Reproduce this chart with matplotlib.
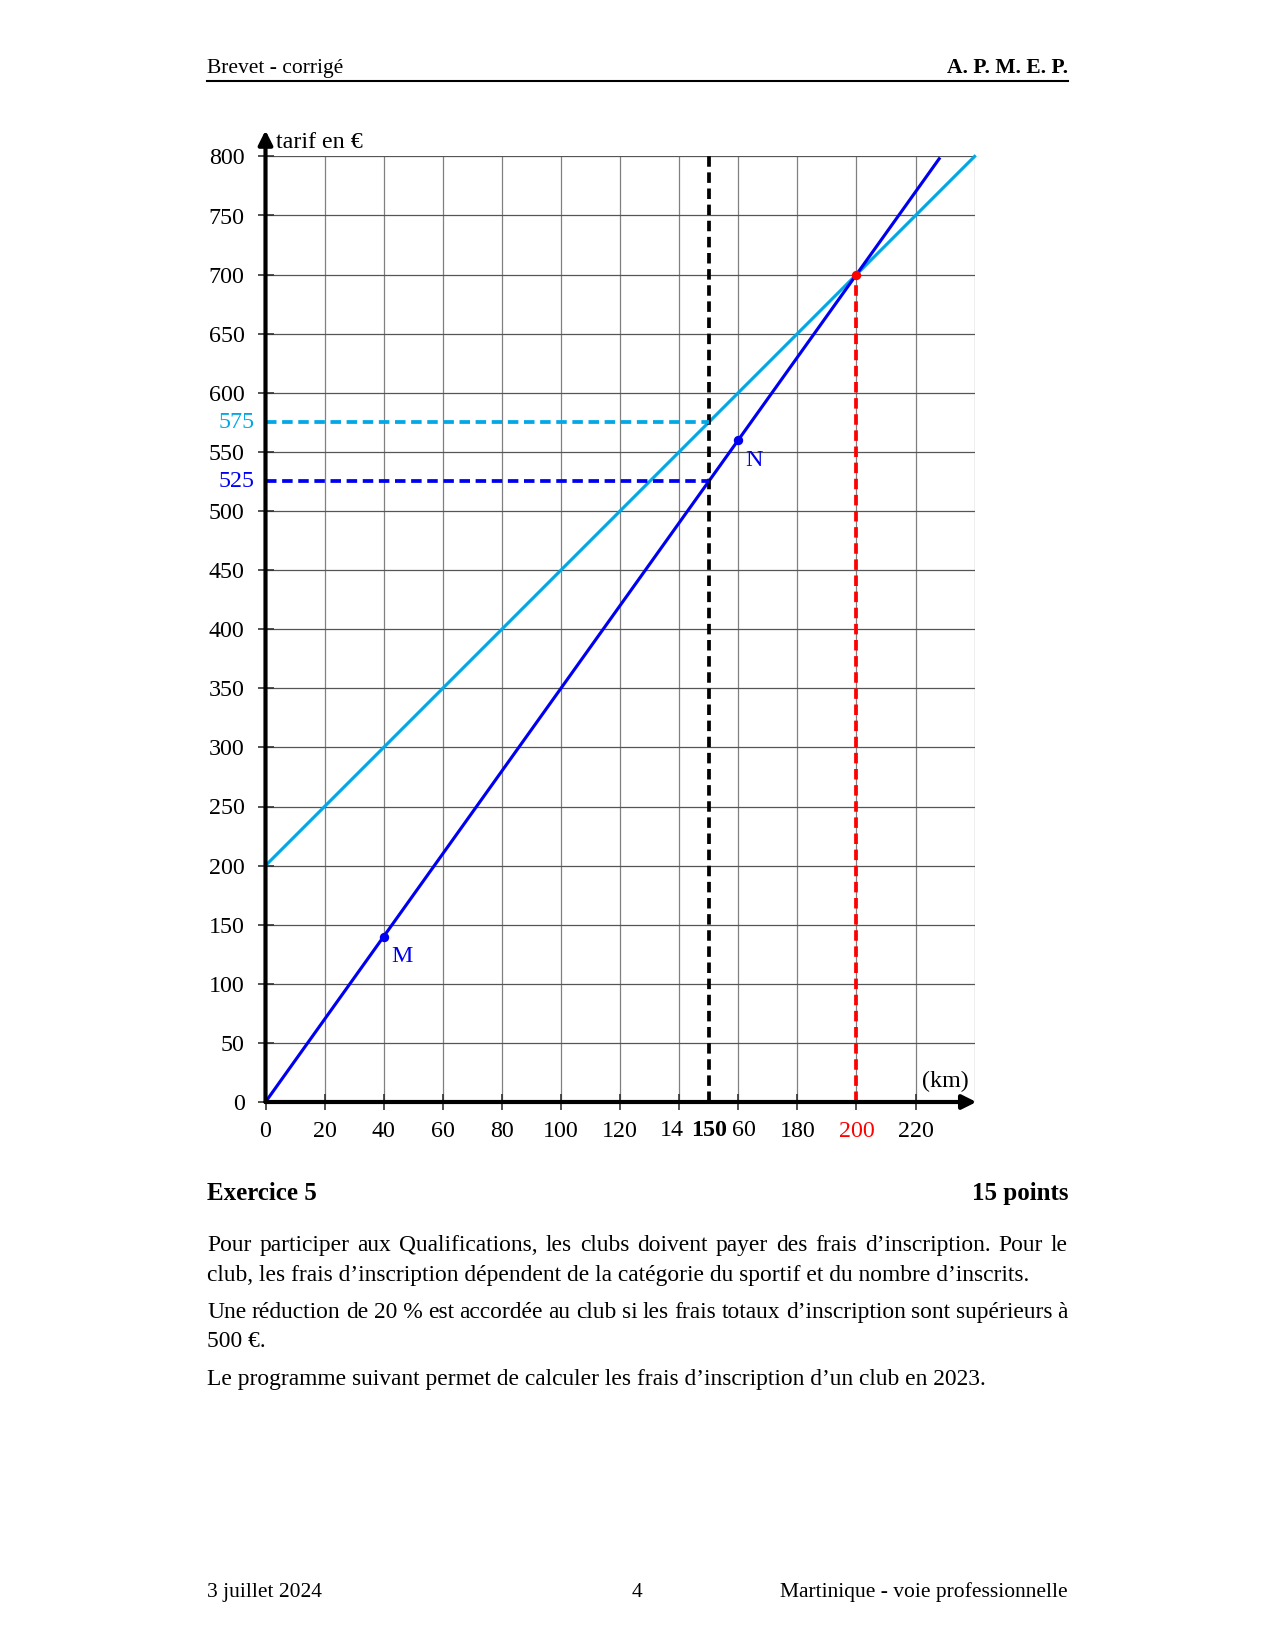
import matplotlib
matplotlib.use("Agg")
import matplotlib.pyplot as plt

# ---------------- data ----------------
x_ticks = [0, 20, 40, 60, 80, 100, 120, 140, 160, 180, 200, 220]
x_labels = ['0', '20', '40', '60', '80', '100', '120', '', '', '180', '200', '220']
y_ticks = [0, 50, 100, 150, 200, 250, 300, 350, 400, 450, 500, 550, 600, 650, 700, 750, 800]
line_dark_x = [0, 228]
line_dark_y = [0, 798]
line_light_x = [0, 240]
line_light_y = [200, 800]
point_M = (40, 140)
point_N = (160, 560)
point_red = (200, 700)
x_mark_black = 150
x_mark_red = 200
y_mark_light = 575
y_mark_dark = 525

DARK = '#0000F0'
LIGHT = '#00A8E6'
RED = '#FF0000'
FONT = 'Liberation Serif'
FS = 11.5
FS_BODY = 11.25
FS_SMALL = 10.3

W, H = 1275, 1650
fig = plt.figure(figsize=(8.5, 11), dpi=150)

def fx(px):
    return px / W

def fy(py):
    return 1 - py / H

ax = fig.add_axes([fx(265.5), fy(1102), (974.6 - 265.5) / W, (1102 - 156.4) / H])
ax.set_xlim(0, 240)
ax.set_ylim(0, 800)
for s in ax.spines.values():
    s.set_visible(False)

# grid
for xv in list(range(20, 241, 20)):
    ax.plot([xv, xv], [0, 800], color='#808080', lw=0.6, zorder=1)
for yv in list(range(50, 801, 50)):
    ax.plot([0, 240], [yv, yv], color='#555555', lw=0.6, zorder=1)

ax.set_xticks(x_ticks)
ax.set_xticklabels(x_labels, fontfamily=FONT, fontsize=FS)
ax.set_yticks(y_ticks)
ax.set_yticklabels([str(v) for v in y_ticks], fontfamily=FONT, fontsize=FS)
ax.tick_params(axis='both', direction='inout', length=8, width=0.8, color='#333333')
ax.tick_params(axis='x', pad=5)
ax.tick_params(axis='y', pad=6)
for lab in ax.get_xticklabels():
    if lab.get_text() == '200':
        lab.set_color(RED)

# the crowded labels around 150
ax.text(141.6, -15.5, '14', fontfamily=FONT, fontsize=FS, ha='right', va='top')
ax.text(x_mark_black, -15.5, str(x_mark_black), fontfamily=FONT, fontsize=FS, fontweight='bold',
        ha='center', va='top')
ax.text(157.9, -15.5, '60', fontfamily=FONT, fontsize=FS, ha='left', va='top')

# axes with arrows
ax.annotate('', xy=(240.6, 0), xytext=(0, 0),
            arrowprops=dict(arrowstyle='-|>', lw=2.0, color='black',
                            mutation_scale=14, shrinkA=0, shrinkB=0),
            annotation_clip=False, zorder=6)
ax.annotate('', xy=(0, 822), xytext=(0, 0),
            arrowprops=dict(arrowstyle='-|>', lw=2.0, color='black',
                            mutation_scale=14, shrinkA=0, shrinkB=0),
            annotation_clip=False, zorder=6)

# lines
ax.plot(line_light_x, line_light_y, color=LIGHT, lw=1.5, zorder=3, clip_on=False)
ax.plot(line_dark_x, line_dark_y, color=DARK, lw=1.5, zorder=3, clip_on=False)

dash = (0, (2.8, 1.5))
DLW = 1.8
ax.plot([x_mark_black, x_mark_black], [0, 800], color='black', lw=DLW, ls=dash, zorder=4)
ax.plot([x_mark_red, x_mark_red], [0, point_red[1]], color=RED, lw=DLW, ls=dash, zorder=4)
ax.plot([0, x_mark_black], [y_mark_light, y_mark_light], color=LIGHT, lw=DLW, ls=dash, zorder=4)
ax.plot([0, x_mark_black], [y_mark_dark, y_mark_dark], color=DARK, lw=DLW, ls=dash, zorder=4)

# points
ax.plot(*point_M, 'o', color=DARK, ms=3.5, zorder=5)
ax.plot(*point_N, 'o', color=DARK, ms=3.5, zorder=5)
ax.plot(*point_red, 'o', color=RED, ms=3.5, zorder=5)
ax.text(point_M[0] + 2.5, point_M[1] - 8, 'M', color=DARK, fontfamily=FONT, fontsize=FS,
        ha='left', va='top')
ax.text(point_N[0] + 2.5, point_N[1] - 8, 'N', color=DARK, fontfamily=FONT, fontsize=FS,
        ha='left', va='top')

# extra tick labels
ax.text(-3.6, y_mark_light, str(y_mark_light), color=LIGHT, fontfamily=FONT, fontsize=FS,
        ha='right', va='center')
ax.text(-3.6, y_mark_dark, str(y_mark_dark), color=DARK, fontfamily=FONT, fontsize=FS,
        ha='right', va='center')

# axis labels
ax.text(3.5, 812, 'tarif en €', fontfamily=FONT, fontsize=FS, ha='left', va='center')
ax.text(238, 17, '(km)', fontfamily=FONT, fontsize=FS, ha='right', va='center')

# ---------------- page text ----------------
LM, RM = 207, 1068
fig.text(fx(LM), fy(73), 'Brevet - corrigé', fontfamily=FONT, fontsize=FS_SMALL, ha='left', va='baseline')
fig.text(fx(RM), fy(73), 'A. P. M. E. P.', fontfamily=FONT, fontsize=FS_SMALL, fontweight='bold',
         ha='right', va='baseline')
fig.add_artist(plt.Line2D([fx(LM), fx(RM)], [fy(81), fy(81)], color='black', lw=1.0))

fig.text(fx(LM), fy(1200), 'Exercice 5', fontfamily=FONT, fontsize=FS + 0.5, fontweight='bold',
         ha='left', va='baseline')
fig.text(fx(RM), fy(1200), '15 points', fontfamily=FONT, fontsize=FS + 0.5, fontweight='bold',
         ha='right', va='baseline')

# (text, baseline y in px, justified?)
lines = [
    ("Pour participer aux Qualifications, les clubs doivent payer des frais d’inscription. Pour le", 1251, True),
    ("club, les frais d’inscription dépendent de la catégorie du sportif et du nombre d’inscrits.", 1281, False),
    ("Une réduction de 20\u00a0% est accordée au club si les frais totaux d’inscription sont supérieurs à", 1318, True),
    ("500\u00a0€.", 1347, False),
    ("Le programme suivant permet de calculer les frais d’inscription d’un club en 2023.", 1385, False),
]

fig.canvas.draw()
renderer = fig.canvas.get_renderer()
for txt, py, justify in lines:
    if not justify:
        fig.text(fx(LM), fy(py), txt, fontfamily=FONT, fontsize=FS_BODY, ha='left', va='baseline')
        continue
    words = txt.split(' ')
    arts = []
    widths = []
    for w in words:
        t = fig.text(0, fy(py), w, fontfamily=FONT, fontsize=FS_BODY, ha='left', va='baseline')
        arts.append(t)
        widths.append(t.get_window_extent(renderer).width)
    total = sum(widths)
    gap = (RM - LM - total) / (len(words) - 1)
    xcur = LM
    for t, wdt in zip(arts, widths):
        t.set_x(fx(xcur))
        xcur += wdt + gap

fig.text(fx(LM), fy(1597), '3 juillet 2024', fontfamily=FONT, fontsize=FS_SMALL, ha='left', va='baseline')
fig.text(fx(636.5), fy(1597), '4', fontfamily=FONT, fontsize=FS_SMALL, ha='center', va='baseline')
fig.text(fx(RM), fy(1597), 'Martinique - voie professionnelle', fontfamily=FONT, fontsize=FS_SMALL,
         ha='right', va='baseline')

fig.savefig('out.png', dpi=150)
